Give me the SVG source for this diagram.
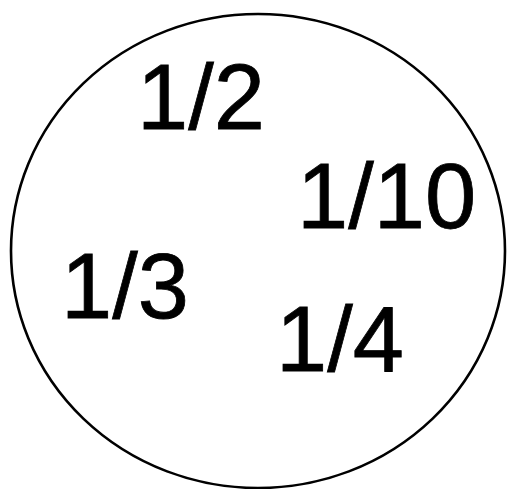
<svg xmlns="http://www.w3.org/2000/svg" width="509" height="489" viewBox="0 0 509 489">
<style>
.f{font-family:"Liberation Sans",Arial,sans-serif;font-size:92px;fill:#000;stroke:#000;stroke-width:0.8}
</style>
<rect width="509" height="489" fill="#fff"/>
<g id="circle"><ellipse cx="258" cy="251" rx="247" ry="237" fill="none" stroke="#000" stroke-width="2.6"/></g>
<g id="half"><text class="f" x="137" y="129">1/2</text></g>
<g id="tenth"><text class="f" x="297" y="228">1/10</text></g>
<g id="third"><text class="f" x="61" y="318">1/3</text></g>
<g id="quarter"><text class="f" x="276" y="371">1/4</text></g>
</svg>
